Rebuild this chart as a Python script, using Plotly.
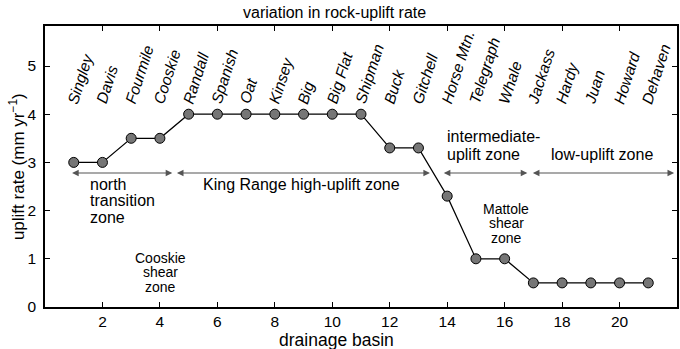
import plotly.graph_objects as go

basin = list(range(1, 22))
uplift = [3.0, 3.0, 3.5, 3.5, 4.0, 4.0, 4.0, 4.0, 4.0, 4.0, 4.0,
          3.3, 3.3, 2.3, 1.0, 1.0, 0.5, 0.5, 0.5, 0.5, 0.5]
names = ["Singley", "Davis", "Fourmile", "Cooskie", "Randall", "Spanish", "Oat",
         "Kinsey", "Big", "Big Flat", "Shipman", "Buck", "Gitchell", "Horse Mtn.",
         "Telegraph", "Whale", "Jackass", "Hardy", "Juan", "Howard", "Dehaven"]
x_ticks = [2, 4, 6, 8, 10, 12, 14, 16, 18, 20]
y_ticks = [0, 1, 2, 3, 4, 5]

# zone arrows: (start, end) in basin units, drawn at a common uplift level
zone_spans = [(0.89, 4.43), (4.54, 13.40), (13.83, 16.79), (16.93, 21.9)]
zone_level = 2.78

FONT = "Liberation Sans, Arial, Helvetica, sans-serif"
PL, PW, PT, PH = 45, 634, 26, 281

fig = go.Figure()
fig.add_trace(go.Scatter(
    x=basin, y=uplift, mode="lines+markers",
    line=dict(color="black", width=1.2),
    marker=dict(size=10, color="#767676", line=dict(color="black", width=1)),
    showlegend=False, hoverinfo="skip"))

ann = []
for xb, nm in zip(basin, names):
    ann.append(dict(x=xb, y=4.12, xref="x", yref="y", text="<i>" + nm + "</i>",
                    showarrow=False, textangle=-72, xanchor="left", yanchor="bottom",
                    xshift=-12, font=dict(size=15.5, color="black", family=FONT)))

for s, e in zone_spans:
    ann.append(dict(x=e, y=zone_level, ax=s, ay=zone_level, xref="x", yref="y",
                    axref="x", ayref="y", text="", showarrow=True,
                    arrowside="end+start", arrowhead=2, arrowsize=1.2,
                    arrowwidth=1.1, arrowcolor="#555555", standoff=0, startstandoff=0))

def line_txt(x, y, t, size=16, xanchor="left"):
    return dict(x=x, y=y, xref="x", yref="y", text=t, showarrow=False,
                xanchor=xanchor, yanchor="middle",
                font=dict(size=size, color="black", family=FONT))

# zone labels (one annotation per line to control line spacing)
for t, yy in zip(["north", "transition", "zone"], [2.55, 2.20, 1.85]):
    ann.append(line_txt(1.49, yy, t))
ann.append(line_txt(8.94, 2.55, "King Range high-uplift zone", xanchor="center"))
for t, yy in zip(["Cooskie", "shear", "zone"], [1.02, 0.72, 0.42]):
    ann.append(line_txt(4.02, yy, t, size=14, xanchor="center"))
for t, yy in zip(["intermediate-", "uplift zone"], [3.53, 3.17]):
    ann.append(line_txt(13.94, yy, t))
ann.append(line_txt(19.38, 3.17, "low-uplift zone", xanchor="center"))
for t, yy in zip(["Mattole", "shear", "zone"], [2.03, 1.74, 1.44]):
    ann.append(line_txt(16.05, yy, t, size=14, xanchor="center"))

# title and axis titles
ann.append(dict(x=(335 - PL) / PW, y=1, xref="paper", yref="paper",
                text="variation in rock-uplift rate", showarrow=False,
                yanchor="middle", yshift=14,
                font=dict(size=16, color="black", family=FONT)))
ann.append(dict(x=(337 - PL) / PW, y=0, xref="paper", yref="paper",
                text="drainage basin", showarrow=False,
                yanchor="middle", yshift=-33,
                font=dict(size=17.5, color="black", family=FONT)))
ann.append(dict(x=(17 - PL) / PW, y=(307 - 167) / PH, xref="paper", yref="paper",
                text="uplift rate (mm yr<sup>−1</sup>)", showarrow=False, textangle=-90,
                xanchor="center", yanchor="middle",
                font=dict(size=17, color="black", family=FONT)))

fig.update_layout(
    width=680, height=349,
    margin=dict(l=PL, r=1, t=PT, b=42),
    paper_bgcolor="white", plot_bgcolor="white",
    font=dict(family=FONT, size=15.5, color="black"),
    annotations=ann,
    xaxis=dict(range=[0, 22], tickvals=x_ticks, ticks="inside", ticklen=5,
               tickwidth=1, tickcolor="black", showline=True, linecolor="black",
               linewidth=1.6, mirror="ticks", showgrid=False, zeroline=False,
               tickfont=dict(size=15.5)),
    yaxis=dict(range=[0, 5.83], tickvals=y_ticks, ticks="inside", ticklen=5,
               tickwidth=1, tickcolor="black", showline=True, linecolor="black",
               linewidth=1.6, mirror="ticks", showgrid=False, zeroline=False,
               tickfont=dict(size=15.5), ticklabelstandoff=4),
)

fig.write_html("out.html")
